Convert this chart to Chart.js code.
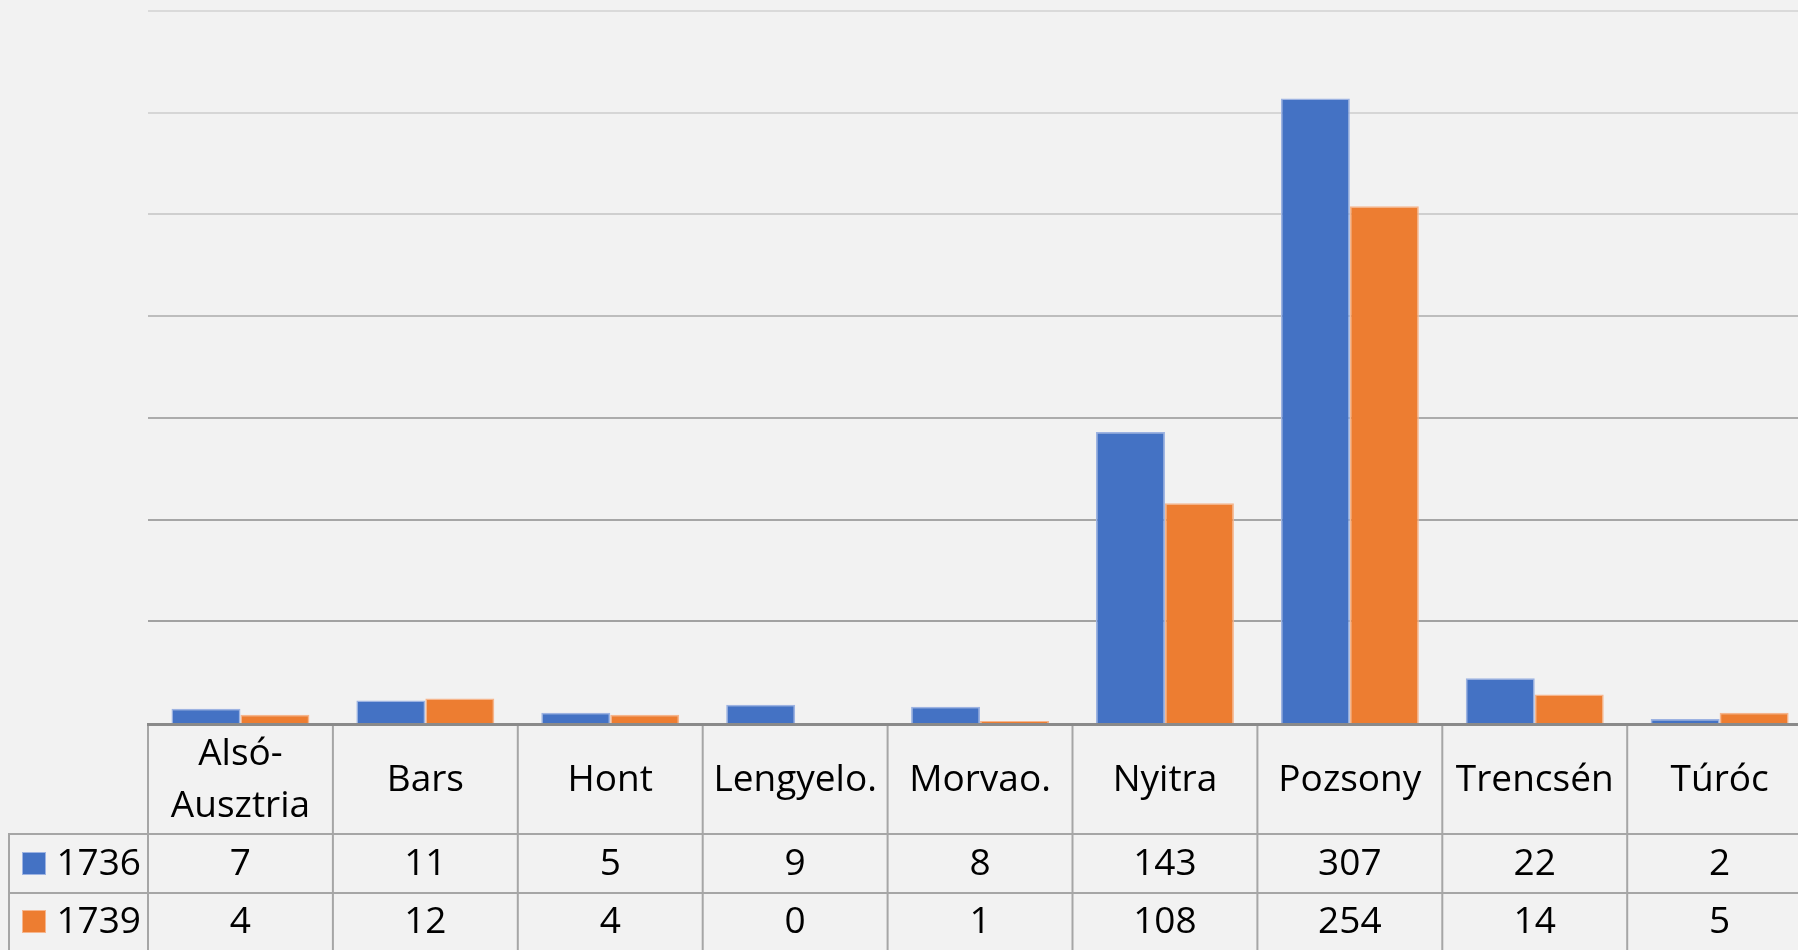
<!DOCTYPE html>
<html>
<head>
<meta charset="utf-8">
<script src="https://cdn.jsdelivr.net/npm/chart.js@4"></script>
<style>
  html, body { margin: 0; padding: 0; background: #F2F2F2; overflow: hidden; width: 1798px; height: 950px; }
  #wrap { position: absolute; left: 0; top: 0; width: 1830px; height: 950px; }
  canvas { display: block; }
</style>
</head>
<body>
<div id="wrap"><canvas id="c" width="1830" height="950" style="width:1830px;height:950px"></canvas></div>
<script>
const categories = [["Alsó-", "Ausztria"], "Bars", "Hont", "Lengyelo.", "Morvao.", "Nyitra", "Pozsony", "Trencsén", "Túróc"];
const seriesNames = ["1736", "1739"];
const values1736 = [7, 11, 5, 9, 8, 143, 307, 22, 2];
const values1739 = [4, 12, 4, 0, 1, 108, 254, 14, 5];
const yMax = 350;
const yStep = 50;

const seriesColors = ["#4472C4", "#ED7D31"];
const seriesBorders = ["#9DB3E2", "#F6B58C"];
const gridColors = ["#A2A2A2", "#A2A2A2", "#A6A6A6", "#ACACAC", "#BDBDBD", "#CFCFCF", "#D6D6D6", "#DADADA"];

const FONT = "37px 'Open Sans'";
const LINE = "#A6A6A6";

const tablePlugin = {
  id: "dataTable",
  afterDraw(chart) {
    const ctx = chart.ctx;
    const x = chart.scales.x;
    const n = categories.length;
    const left = chart.chartArea.left;
    const axisY = chart.chartArea.bottom;
    const colW = (chart.chartArea.right - chart.chartArea.left) / n;
    const W = chart.width;
    const headerBottom = 834;
    const row1Bottom = 893;
    const row2Bottom = 952;
    ctx.save();
    // table lines
    ctx.strokeStyle = LINE;
    ctx.lineWidth = 2;
    ctx.beginPath();
    ctx.moveTo(8, headerBottom); ctx.lineTo(W, headerBottom);
    ctx.moveTo(8, row1Bottom); ctx.lineTo(W, row1Bottom);
    ctx.moveTo(8, row2Bottom); ctx.lineTo(W, row2Bottom);
    ctx.moveTo(9, headerBottom); ctx.lineTo(9, row2Bottom);
    for (let i = 0; i <= n; i++) {
      const bx = left + i * colW;
      ctx.moveTo(bx, axisY); ctx.lineTo(bx, row2Bottom);
    }
    ctx.stroke();
    // axis line
    ctx.strokeStyle = "#8A8A8A";
    ctx.lineWidth = 3;
    ctx.beginPath();
    ctx.moveTo(left - 1, axisY + 1.5); ctx.lineTo(W, axisY + 1.5);
    ctx.stroke();
    // text
    ctx.fillStyle = "#000000";
    ctx.font = FONT;
    ctx.textAlign = "center";
    ctx.textBaseline = "alphabetic";
    for (let i = 0; i < n; i++) {
      const cx = x.getPixelForValue(i);
      const lab = categories[i];
      if (Array.isArray(lab)) {
        ctx.fillText(lab[0], cx, 765);
        ctx.fillText(lab[1], cx, 817);
      } else {
        ctx.fillText(lab, cx, 791);
      }
      ctx.fillText(String(values1736[i]), cx, 875);
      ctx.fillText(String(values1739[i]), cx, 933);
    }
    // legend keys + series names
    const rowsBase = [875, 933];
    const keyTop = [852, 910];
    for (let s = 0; s < 2; s++) {
      ctx.fillStyle = seriesBorders[s];
      ctx.fillRect(22, keyTop[s], 24, 23);
      ctx.fillStyle = seriesColors[s];
      ctx.fillRect(23, keyTop[s] + 1, 22, 21);
      ctx.fillStyle = "#000000";
      ctx.textAlign = "right";
      ctx.fillText(seriesNames[s], 141, rowsBase[s]);
    }
    ctx.restore();
  }
};

function build() {
  new Chart(document.getElementById("c"), {
    type: "bar",
    data: {
      labels: categories.map(c => Array.isArray(c) ? c.join("") : c),
      datasets: [
        { label: seriesNames[0], data: values1736, backgroundColor: seriesColors[0], borderColor: seriesBorders[0], borderWidth: 1.5 },
        { label: seriesNames[1], data: values1739, backgroundColor: seriesColors[1], borderColor: seriesBorders[1], borderWidth: 1.5 }
      ]
    },
    options: {
      responsive: false,
      animation: false,
      devicePixelRatio: 1,
      layout: { padding: { left: 148, top: 11, right: 1830 - (148 + 9 * 184.9), bottom: 950 - 723 } },
      datasets: { bar: { categoryPercentage: 0.746, barPercentage: 1.0 } },
      plugins: { legend: { display: false }, tooltip: { enabled: false } },
      scales: {
        x: { display: false },
        y: {
          display: true,
          min: 0, max: yMax,
          ticks: { display: false, stepSize: yStep },
          border: { display: false },
          grid: {
            drawTicks: false,
            lineWidth: (c) => c.index === 0 ? 0 : 2,
            color: (c) => gridColors[c.index] || "#D9D9D9"
          }
        }
      }
    },
    plugins: [{
      id: "bg",
      beforeDraw(chart) {
        const ctx = chart.ctx;
        ctx.save();
        ctx.fillStyle = "#F2F2F2";
        ctx.fillRect(0, 0, chart.width, chart.height);
        ctx.restore();
      }
    }, tablePlugin]
  });
}

if (document.fonts && document.fonts.load) {
  document.fonts.load(FONT).then(build, build);
} else {
  build();
}
</script>
</body>
</html>
